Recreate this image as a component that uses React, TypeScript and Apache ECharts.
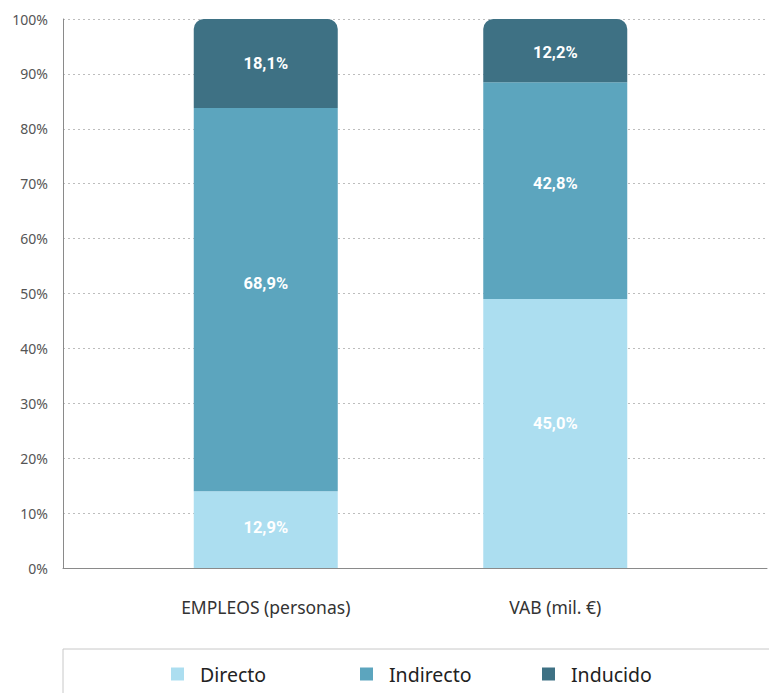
import React, { useEffect, useRef } from "react";
import * as echarts from "echarts";

const categories = ["EMPLEOS (personas)", "VAB (mil. €)"];
const seriesNames = ["Directo", "Indirecto", "Inducido"];
// bar heights as drawn in the picture (% of axis)
const directo = [14.0, 49.0];
const indirecto = [69.8, 39.5];
const inducido = [16.2, 11.5];
// printed labels
const directoLabels = ["12,9%", "45,0%"];
const indirectoLabels = ["68,9%", "42,8%"];
const inducidoLabels = ["18,1%", "12,2%"];
const colors = ["#acdef0", "#5ca5be", "#3e7184"];

// vertical label nudges (px) to match the picture
const labelOffsets = [
  [-2, -10],
  [-16, -7],
  [0, 2],
];
const legendLefts = [171, 360, 542];

export default function App() {
  const ref = useRef<HTMLDivElement>(null);
  useEffect(() => {
    if (!ref.current) return;
    const chart = echarts.init(ref.current, null, { renderer: "svg" });
    const allValues = [directo, indirecto, inducido];
    const allLabels = [directoLabels, indirectoLabels, inducidoLabels];
    chart.setOption({
      animation: false,
      grid: [
        { left: 63, right: 2, top: 19, bottom: 125 },
        { left: 121, width: 579, top: 19, bottom: 125 },
      ],
      xAxis: [
        {
          gridIndex: 0,
          type: "value",
          min: 0,
          max: 1,
          axisLine: { show: true, onZero: false, lineStyle: { color: "#8a8a8a", width: 1 } },
          axisTick: { show: false },
          axisLabel: { show: false },
          splitLine: { show: false },
        },
        {
          gridIndex: 1,
          type: "category",
          data: categories,
          axisLine: { show: false },
          axisTick: { show: false },
          axisLabel: {
            margin: 30,
            fontSize: 17.5,
            color: "#333333",
            fontFamily: "Noto Sans",
          },
        },
      ],
      yAxis: [
        {
          gridIndex: 0,
          type: "value",
          min: 0,
          max: 100,
          interval: 10,
          axisLine: { show: true, lineStyle: { color: "#8a8a8a", width: 1 } },
          axisTick: { show: false },
          axisLabel: {
            formatter: "{value}%",
            margin: 15,
            fontSize: 14,
            color: "#555555",
            fontFamily: "Noto Sans",
            padding: [0, 0, 4, 0],
          },
          splitLine: {
            show: true,
            lineStyle: { color: "#bdbdbd", type: [2, 3], width: 1 },
          },
        },
        {
          gridIndex: 1,
          type: "value",
          min: 0,
          max: 100,
          show: false,
          splitLine: { show: false },
        },
      ],
      legend: seriesNames.map((name, i) => ({
        data: [name],
        left: legendLefts[i],
        top: 664,
        padding: 0,
        icon: "rect",
        itemWidth: 13,
        itemHeight: 13,
        textStyle: {
          fontSize: 19.5,
          color: "#222222",
          fontFamily: "Noto Sans",
          padding: [0, 0, 0, 11],
        },
      })),
      graphic: [
        {
          type: "rect",
          shape: { x: 63, y: 649, width: 720, height: 70 },
          style: { fill: "none", stroke: "#c8c8c8", lineWidth: 1 },
          silent: true,
        },
      ],
      series: seriesNames.map((name, i) => ({
        name,
        type: "bar",
        stack: "total",
        xAxisIndex: 1,
        yAxisIndex: 1,
        barWidth: 144,
        data: allValues[i].map((v, j) => ({
          value: v,
          label: { offset: [0, labelOffsets[i][j]] },
        })),
        itemStyle: {
          color: colors[i],
          borderRadius: i === 2 ? [10, 10, 0, 0] : 0,
        },
        label: {
          show: true,
          position: "inside",
          formatter: (p: any) => allLabels[i][p.dataIndex],
          color: "#ffffff",
          fontWeight: "bold",
          fontSize: 16.5,
          fontFamily: "Roboto",
        },
      })),
    });
    return () => chart.dispose();
  }, []);
  return (
    <div
      ref={ref}
      style={{ position: "fixed", left: 0, top: 0, width: 769, height: 693, background: "#fff" }}
    />
  );
}
